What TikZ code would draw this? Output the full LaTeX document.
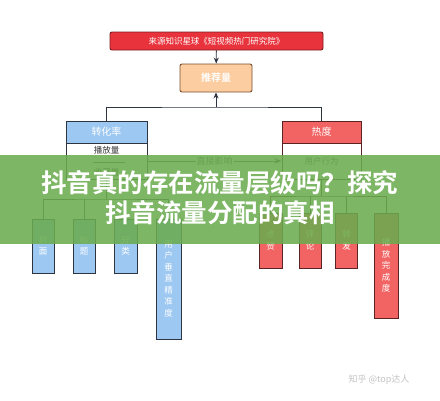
\documentclass[tikz,border=0pt]{standalone}
\usepackage{fontspec}
\newfontfamily\cjk{Noto Sans CJK SC}
\newfontfamily\cjkb{Noto Sans CJK SC Bold}
\usetikzlibrary{arrows.meta}
\definecolor{topred}{HTML}{E8333C}
\definecolor{topredb}{HTML}{7A1F1F}
\definecolor{peach}{HTML}{FBCDA0}
\definecolor{peachb}{HTML}{7A5030}
\definecolor{lblue}{HTML}{9DC8F2}
\definecolor{darkb}{HTML}{2E3440}
\definecolor{salmon}{HTML}{F26464}
\definecolor{salmonb}{HTML}{5A2424}
\definecolor{bgreen}{HTML}{6AAC4E}
\definecolor{wm}{HTML}{C4C4C4}
\tikzset{
  px/.style={x=1pt,y=-1pt},
  box/.style={draw, line width=0.9pt, inner sep=0pt, anchor=center},
  conn/.style={draw=darkb, line width=0.8pt},
  vtext/.style={box, text=white, font=\cjk\fontsize{8.5}{11.5}\selectfont, align=center},
}
\begin{document}
\begin{tikzpicture}[px]
\useasboundingbox (0,0) rectangle (440,400);
\fill[white] (0,0) rectangle (440,400);
% top
\node[box, draw=topredb, fill=topred, rounded corners=2pt, minimum width=213pt, minimum height=18pt,
  text=white, font=\cjk\fontsize{8.5}{10}\selectfont] (top) at (216.5,41) {来源知识星球《短视频热门研究院》};
\node[box, draw=peachb, fill=peach, rounded corners=2pt, minimum width=72pt, minimum height=28pt,
  text=white, font=\cjkb\fontsize{10}{12}\selectfont] (rec) at (216,78) {推荐量};
\draw[conn, -{Stealth[length=6pt,width=5pt]}] (top) -- (rec);
% second level
\node[box, draw=darkb, fill=lblue, minimum width=81pt, minimum height=22pt,
  text=white, font=\cjk\fontsize{10}{12}\selectfont] (zh) at (106.5,132) {转化率};
\node[box, draw=darkb, fill=white, minimum width=81pt, minimum height=36pt] (zb) at (106.5,161) {};
\node[font=\cjk\fontsize{8.5}{10}\selectfont, text=black!80, inner sep=0pt] (zb1) at (106.5,150) {播放量};
\node[font=\cjk\fontsize{8.5}{10}\selectfont, text=black!80, inner sep=0pt] (zb2) at (106.5,172) {收藏量};
\coordinate (sepl) at (93,162);
\coordinate (sepr) at (125,162);
\draw[line width=0.5pt, black!70] (sepl) -- (sepr);
\node[box, draw=salmonb, fill=salmon, minimum width=79pt, minimum height=22pt,
  text=white, font=\cjk\fontsize{10}{12}\selectfont] (rd) at (321.5,132) {热度};
\node[box, draw=salmonb, fill=white, minimum width=79pt, minimum height=36pt] (rb) at (321.5,161) {};
\node[font=\cjk\fontsize{8.5}{10}\selectfont, text=black!65, inner sep=0pt] (rb1) at (321.5,161) {用户行为};
\coordinate (hub) at (216,107);
\draw[conn] (zh.north) |- (hub) -| (rd.north);
\draw[conn, -{Stealth[length=6pt,width=5pt]}] (hub) -- (rec.south);
\draw[conn, draw=black!70, -{Stealth[length=7pt,width=5pt]}] (zb.east) -- node[fill=white, inner sep=1pt, text=black!65, font=\cjk\fontsize{9}{10}\selectfont] (lab) {直接影响} (rb.west);
% left leaves
\node[vtext, draw=darkb, fill=lblue, minimum width=22pt, minimum height=54pt] (b1) at (43,246) {封\\面};
\node[vtext, draw=darkb, fill=lblue, minimum width=22pt, minimum height=54pt] (b2) at (84,246) {标\\题};
\node[vtext, draw=darkb, fill=lblue, minimum width=23pt, minimum height=54pt] (b3) at (125.5,246) {分\\类};
\node[vtext, draw=darkb, fill=lblue, minimum width=25pt, minimum height=120pt] (b4) at (168.5,279) {用\\户\\垂\\直\\精\\准\\度};
\coordinate (lh) at (106.5,199);
\draw[conn] (zb.south) -- (lh);
\draw[conn] (b1.north) |- (lh) -| (b4.north);
\draw[conn] (b2.north) -- (b2.north |- lh);
\draw[conn] (b3.north) -- (b3.north |- lh);
% right leaves
\node[vtext, draw=salmonb, fill=salmon, minimum width=23pt, minimum height=55pt] (r1) at (270.5,240.5) {点\\赞};
\node[vtext, draw=salmonb, fill=salmon, minimum width=22pt, minimum height=55pt] (r2) at (310,240.5) {评\\论};
\node[vtext, draw=salmonb, fill=salmon, minimum width=22pt, minimum height=55pt] (r3) at (346.5,240.5) {转\\发};
\node[vtext, draw=salmonb, fill=salmon, minimum width=24pt, minimum height=105pt] (r4) at (386,265.5) {播\\放\\完\\成\\度};
\coordinate (rh) at (321.5,196);
\draw[conn, draw=salmonb] (rb.south) -- (rh);
\draw[conn, draw=salmonb] (r1.north) |- (rh) -| (r4.north);
\draw[conn, draw=salmonb] (r2.north) -- (r2.north |- rh);
\draw[conn, draw=salmonb] (r3.north) -- (r3.north |- rh);
% banner
\fill[bgreen, opacity=0.87] (0,155) rectangle (440,244);
\node[text=white, font=\cjkb\fontsize{25.5}{28}\selectfont, inner sep=0pt] (t1) at (220,183) {抖音真的存在流量层级吗？探究};
\node[text=white, font=\cjkb\fontsize{25.5}{28}\selectfont, inner sep=0pt] (t2) at (220,213) {抖音流量分配的真相};
% watermark
\node[text=wm, font=\cjk\fontsize{9}{10}\selectfont, inner sep=0pt] (wmk) at (379,380) {知乎 @top达人};
\end{tikzpicture}
\end{document}
